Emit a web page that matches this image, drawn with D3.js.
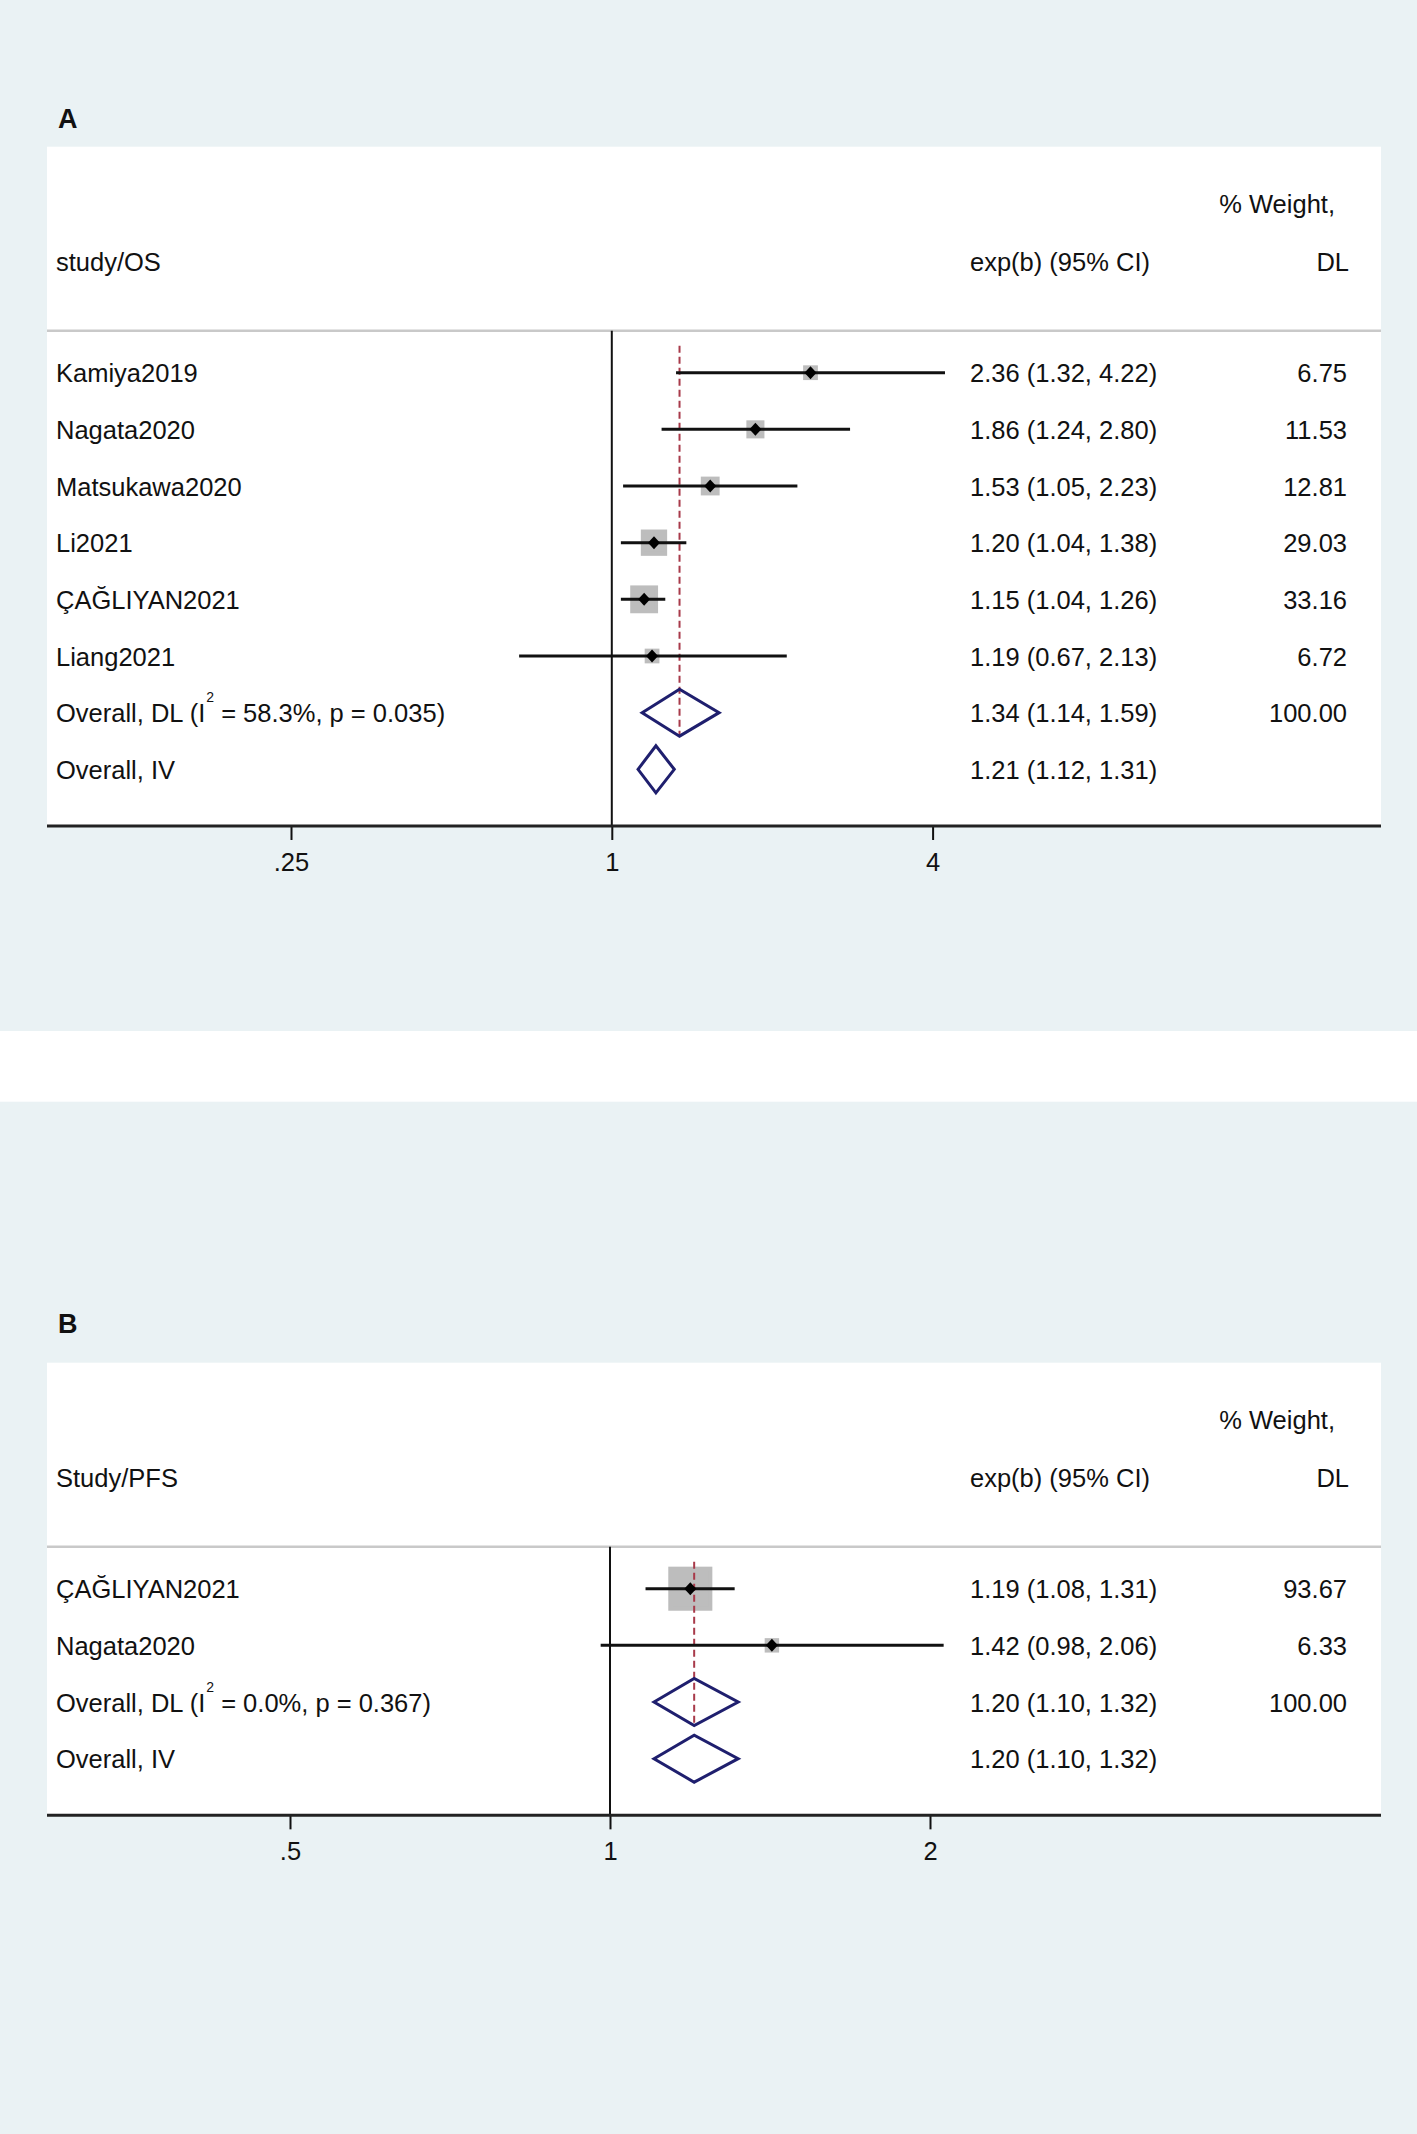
<!DOCTYPE html>
<meta charset="utf-8">
<style>
body { margin: 0; background: #fff; }
text { font-family: Arial, "Liberation Sans", sans-serif; fill: #111; }
</style>
<body>
<script src="https://cdn.jsdelivr.net/npm/d3@7"></script>
<script>

// panel A - overall survival
var studiesA = ["Kamiya2019", "Nagata2020", "Matsukawa2020", "Li2021", "ÇAĞLIYAN2021", "Liang2021"];
var esA = [2.36, 1.86, 1.53, 1.20, 1.15, 1.19];
var loA = [1.32, 1.24, 1.05, 1.04, 1.04, 0.67];
var hiA = [4.22, 2.80, 2.23, 1.38, 1.26, 2.13];
var weightA = [6.75, 11.53, 12.81, 29.03, 33.16, 6.72];
var overallA = [
  {label: "Overall, DL", i2: "58.3%", p: "0.035", es: 1.34, lo: 1.14, hi: 1.59, w: 100.00},
  {label: "Overall, IV", es: 1.21, lo: 1.12, hi: 1.31}
];
var ticksA = [0.25, 1, 4];
var tickLabelsA = [".25", "1", "4"];

// panel B - progression free survival
var studiesB = ["ÇAĞLIYAN2021", "Nagata2020"];
var esB = [1.19, 1.42];
var loB = [1.08, 0.98];
var hiB = [1.31, 2.06];
var weightB = [93.67, 6.33];
var overallB = [
  {label: "Overall, DL", i2: "0.0%", p: "0.367", es: 1.20, lo: 1.10, hi: 1.32, w: 100.00},
  {label: "Overall, IV", es: 1.20, lo: 1.10, hi: 1.32}
];
var ticksB = [0.5, 1, 2];
var tickLabelsB = [".5", "1", "2"];

var W = 1417, H = 2134;
var boxL = 47, boxR = 1381;
var rowStep = 56.66, fs = 25.5;

var svg = d3.select("body").append("svg")
    .attr("width", W)
    .attr("height", H);

function drawPanel(cfg) {
  var g = svg.append("g");
  var nRows = cfg.studies.length + cfg.overall.length;

  var y = d3.scaleLinear()
      .domain([0, 1])
      .range([cfg.top + 226, cfg.top + 226 + rowStep]);
  var x = d3.scaleLog()
      .domain(cfg.domain)
      .range(cfg.range);
  var axisY = y(nRows);
  var sepY = cfg.top + 184;

  // background + plot region
  g.append("rect")
      .attr("x", 0).attr("y", cfg.bgTop)
      .attr("width", W).attr("height", cfg.bgBottom - cfg.bgTop)
      .attr("fill", "#eaf2f4");
  g.append("rect")
      .attr("x", boxL).attr("y", cfg.top)
      .attr("width", boxR - boxL).attr("height", axisY - cfg.top)
      .attr("fill", "#fff");

  g.append("text")
      .attr("x", 58).attr("y", cfg.labelY)
      .style("font-size", "27px").style("font-weight", "bold")
      .text(cfg.name);

  // header
  g.append("text").attr("x", 1335).attr("y", cfg.top + 66.3)
      .style("font-size", fs + "px").style("text-anchor", "end")
      .text("% Weight,");
  g.append("text").attr("x", 56).attr("y", cfg.top + 124)
      .style("font-size", fs + "px")
      .text(cfg.header);
  g.append("text").attr("x", 970).attr("y", cfg.top + 124)
      .style("font-size", fs + "px")
      .text("exp(b) (95% CI)");
  g.append("text").attr("x", 1349).attr("y", cfg.top + 124)
      .style("font-size", fs + "px").style("text-anchor", "end")
      .text("DL");

  g.append("line")
      .attr("x1", boxL).attr("x2", boxR)
      .attr("y1", sepY).attr("y2", sepY)
      .attr("stroke", "#c9c9c9").attr("stroke-width", 2.5);

  // null line
  g.append("line")
      .attr("x1", x(1)).attr("x2", x(1))
      .attr("y1", sepY).attr("y2", axisY)
      .attr("stroke", "#111").attr("stroke-width", 2);

  var rows = cfg.studies.map(function(s, i) {
    return {label: s, es: cfg.es[i], lo: cfg.lo[i], hi: cfg.hi[i], w: cfg.weight[i], i: i};
  });

  // weight boxes
  g.selectAll(".wbox")
      .data(rows)
    .enter().append("rect")
      .attr("class", "wbox")
      .attr("x", function(d) { return x(d.es) - 2.07 * Math.sqrt(d.w); })
      .attr("y", function(d) { return y(d.i) - 2.07 * Math.sqrt(d.w); })
      .attr("width", function(d) { return 4.14 * Math.sqrt(d.w); })
      .attr("height", function(d) { return 4.14 * Math.sqrt(d.w); })
      .attr("fill", "#bdbdbd")
      .attr("stroke", "#bdbdbd")
      .attr("stroke-width", 4);

  // pooled estimate line
  var dl = cfg.overall[0];
  var dlRow = cfg.studies.length;
  g.append("line")
      .attr("x1", x(dl.es)).attr("x2", x(dl.es))
      .attr("y1", sepY + 15).attr("y2", y(dlRow) + 23.5)
      .attr("stroke", "#a83a4a").attr("stroke-width", 2)
      .attr("stroke-dasharray", "7,4");

  // confidence intervals
  g.selectAll(".ci")
      .data(rows)
    .enter().append("line")
      .attr("class", "ci")
      .attr("x1", function(d) { return x(d.lo); })
      .attr("x2", function(d) { return x(d.hi); })
      .attr("y1", function(d) { return y(d.i); })
      .attr("y2", function(d) { return y(d.i); })
      .attr("stroke", "#111").attr("stroke-width", 3);

  g.selectAll(".pt")
      .data(rows)
    .enter().append("path")
      .attr("class", "pt")
      .attr("d", function(d) {
        var cx = x(d.es), cy = y(d.i);
        return "M" + (cx - 6) + "," + cy + "L" + cx + "," + (cy - 6.5) +
               "L" + (cx + 6) + "," + cy + "L" + cx + "," + (cy + 6.5) + "Z";
      })
      .attr("fill", "#000");

  // overall diamonds
  var ov = cfg.overall.map(function(o, j) {
    return Object.assign({}, o, {i: cfg.studies.length + j});
  });
  g.selectAll(".ov")
      .data(ov)
    .enter().append("path")
      .attr("class", "ov")
      .attr("d", function(d) {
        var cy = y(d.i);
        return "M" + x(d.lo) + "," + cy + "L" + x(d.es) + "," + (cy - 23.5) +
               "L" + x(d.hi) + "," + cy + "L" + x(d.es) + "," + (cy + 23.5) + "Z";
      })
      .attr("fill", "none")
      .attr("stroke", "#1f1f6e")
      .attr("stroke-width", 3);

  // text columns
  var all = rows.concat(ov);
  var lab = g.selectAll(".lab")
      .data(all)
    .enter().append("text")
      .attr("class", "lab")
      .attr("x", 56)
      .attr("y", function(d) { return y(d.i) + 9.5; })
      .style("font-size", fs + "px");
  lab.each(function(d) {
    var t = d3.select(this);
    if (d.i2) {
      t.append("tspan").text(d.label + " (I");
      t.append("tspan").attr("dy", -20).attr("dx", 1).style("font-size", "14px").text("2");
      t.append("tspan").attr("dy", 20).text(" = " + d.i2 + ", p = " + d.p + ")");
    } else {
      t.text(d.label);
    }
  });

  g.selectAll(".est")
      .data(all)
    .enter().append("text")
      .attr("class", "est")
      .attr("x", 970)
      .attr("y", function(d) { return y(d.i) + 9.5; })
      .style("font-size", fs + "px")
      .text(function(d) {
        return d.es.toFixed(2) + " (" + d.lo.toFixed(2) + ", " + d.hi.toFixed(2) + ")";
      });

  g.selectAll(".wt")
      .data(all.filter(function(d) { return d.w != null; }))
    .enter().append("text")
      .attr("class", "wt")
      .attr("x", 1347)
      .attr("y", function(d) { return y(d.i) + 9.5; })
      .style("font-size", fs + "px").style("text-anchor", "end")
      .text(function(d) { return d.w.toFixed(2); });

  // x axis
  var ax = g.append("g")
      .attr("transform", "translate(0," + axisY + ")")
      .call(d3.axisBottom(x)
        .tickValues(cfg.ticks)
        .tickFormat(function(d, i) { return cfg.tickLabels[i]; })
        .tickSize(14));
  ax.select(".domain").remove();
  ax.selectAll(".tick line").attr("stroke", "#111").attr("stroke-width", 2);
  ax.selectAll(".tick text")
      .attr("y", 45).attr("dy", 0)
      .attr("fill", "#111")
      .style("font-size", fs + "px")
      .style("font-family", "Arial, 'Liberation Sans', sans-serif");
  g.append("line")
      .attr("x1", boxL).attr("x2", boxR)
      .attr("y1", axisY).attr("y2", axisY)
      .attr("stroke", "#222").attr("stroke-width", 3);
}

drawPanel({
  name: "A", header: "study/OS",
  studies: studiesA, es: esA, lo: loA, hi: hiA, weight: weightA, overall: overallA,
  ticks: ticksA, tickLabels: tickLabelsA,
  domain: [0.25, 4], range: [291, 932.6],
  top: 146.7, labelY: 128, bgTop: 0, bgBottom: 1031
});

drawPanel({
  name: "B", header: "Study/PFS",
  studies: studiesB, es: esB, lo: loB, hi: hiB, weight: weightB, overall: overallB,
  ticks: ticksB, tickLabels: tickLabelsB,
  domain: [0.5, 2], range: [290, 930],
  top: 1362.7, labelY: 1333, bgTop: 1101.7, bgBottom: 2134
});

</script>
</body>
